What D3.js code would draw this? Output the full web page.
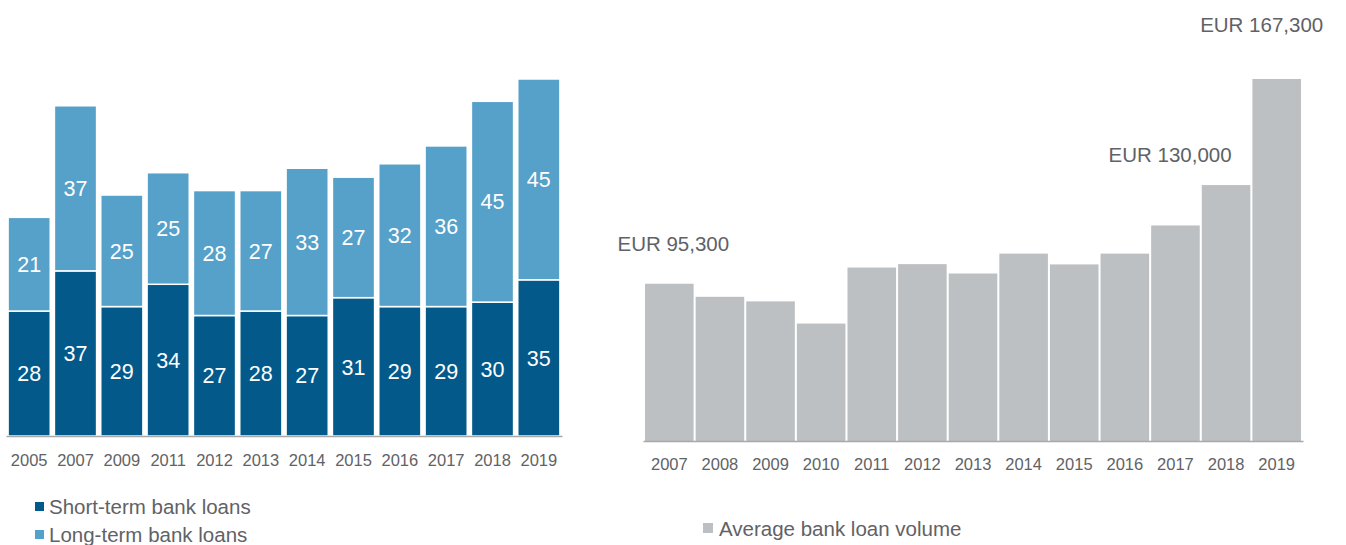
<!DOCTYPE html>
<html>
<head>
<meta charset="utf-8">
<script src="https://cdn.jsdelivr.net/npm/d3@7"></script>
<style>
  body { margin: 0; background: #fff; }
  svg { display: block; font-family: "Liberation Sans", Arial, sans-serif; }
</style>
</head>
<body>
<div id="chart"></div>
<script>
// left chart: number of bank loans (stacked)
var loanYears = ["2005","2007","2009","2011","2012","2013","2014","2015","2016","2017","2018","2019"];
var shortTerm = [28, 37, 29, 34, 27, 28, 27, 31, 29, 29, 30, 35];
var longTerm  = [21, 37, 25, 25, 28, 27, 33, 27, 32, 36, 45, 45];

// right chart: average bank loan volume (EUR)
var volYears = ["2007","2008","2009","2010","2011","2012","2013","2014","2015","2016","2017","2018","2019"];
var avgVolume = [95300, 90700, 89100, 81300, 101000, 102200, 98900, 105900, 102100, 105900, 115800, 130000, 167300];
var volLabels = {"2007": "EUR 95,300", "2018": "EUR 130,000", "2019": "EUR 167,300"};

var colors = { short: "#035a8a", long: "#56a1c9", avg: "#bdc0c3", text: "#5f6266", axis: "#a9a9a9" };

var W = 1346, H = 545;
var svg = d3.select("#chart").append("svg").attr("width", W).attr("height", H);

// ---------- left chart ----------
var left = { x0: 6, x1: 562, base: 436 };
var xL = d3.scaleBand().domain(loanYears).range([left.x0, left.x1]).paddingInner(0.09).paddingOuter(0.045);
var yL = d3.scaleLinear().domain([0, 80]).range([left.base, 79]);

var stackData = loanYears.map(function(y, i){ return { year: y, short: shortTerm[i], long: longTerm[i] }; });
var series = d3.stack().keys(["short", "long"])(stackData);

var gL = svg.append("g");
gL.selectAll(".layer").data(series).enter().append("g")
  .attr("fill", function(d){ return colors[d.key]; })
  .selectAll("rect").data(function(d){ return d; }).enter().append("rect")
  .attr("x", function(d){ return xL(d.data.year); })
  .attr("y", function(d){ return yL(d[1]); })
  .attr("width", xL.bandwidth())
  .attr("height", function(d){ return yL(d[0]) - yL(d[1]); })
  .attr("stroke", "#fff").attr("stroke-width", 1.5);

gL.selectAll(".layerlab").data(series).enter().append("g")
  .selectAll("text").data(function(d){ return d; }).enter().append("text")
  .attr("x", function(d){ return xL(d.data.year) + xL.bandwidth()/2; })
  .attr("y", function(d){ return (yL(d[0]) + yL(d[1]))/2; })
  .attr("dy", "0.36em")
  .attr("text-anchor", "middle")
  .attr("fill", "#fff").style("font-size", "21.5px")
  .text(function(d){ return d[1] - d[0]; });

var axL = gL.append("g").attr("transform", "translate(0," + left.base + ")")
  .call(d3.axisBottom(xL).tickSize(0).tickPadding(18));
axL.select(".domain").attr("stroke", colors.axis).attr("stroke-width", 1.5);
axL.selectAll("text").attr("fill", colors.text).style("font-size", "16.5px").style("font-family", "Liberation Sans, Arial, sans-serif");

// legend left
var legL = [{ label: "Short-term bank loans", c: colors.short, y: 507 }, { label: "Long-term bank loans", c: colors.long, y: 535 }];
legL.forEach(function(d){
  svg.append("rect").attr("x", 35).attr("y", d.y - 5).attr("width", 9).attr("height", 9).attr("fill", d.c);
  svg.append("text").attr("x", 49).attr("y", d.y).attr("dy", "0.36em")
    .attr("fill", colors.text).style("font-size", "20.5px").text(d.label);
});

// ---------- right chart ----------
var right = { x0: 643, x1: 1303, base: 441 };
var xR = d3.scaleBand().domain(volYears).range([right.x0, right.x1]).paddingInner(0.04).paddingOuter(0.04);
var yR = d3.scaleLinear().domain([40000, 167300]).range([right.base, 79]);

var gR = svg.append("g");
gR.selectAll("rect").data(avgVolume).enter().append("rect")
  .attr("x", function(d, i){ return xR(volYears[i]); })
  .attr("y", function(d){ return yR(d); })
  .attr("width", xR.bandwidth())
  .attr("height", function(d){ return right.base - yR(d); })
  .attr("fill", colors.avg);

var axR = gR.append("g").attr("transform", "translate(0," + right.base + ")")
  .call(d3.axisBottom(xR).tickSize(0).tickPadding(17));
axR.select(".domain").attr("stroke", colors.axis).attr("stroke-width", 1.5);
axR.selectAll("text").attr("fill", colors.text).style("font-size", "16.5px").style("font-family", "Liberation Sans, Arial, sans-serif");

// value call-outs (offsets relative to their bar)
var callOffsets = { "2007": { dx: 4, dy: -33 }, "2018": { dx: -56, dy: -23 }, "2019": { dx: -15, dy: -47 } };
Object.keys(volLabels).forEach(function(yr){
  var i = volYears.indexOf(yr);
  gR.append("text")
    .attr("x", xR(yr) + xR.bandwidth()/2 + callOffsets[yr].dx)
    .attr("y", yR(avgVolume[i]) + callOffsets[yr].dy)
    .attr("text-anchor", "middle")
    .attr("fill", colors.text).style("font-size", "20.5px")
    .text(volLabels[yr]);
});

// legend right
svg.append("rect").attr("x", 703).attr("y", 523).attr("width", 10).attr("height", 10).attr("fill", colors.avg);
svg.append("text").attr("x", 719).attr("y", 529).attr("dy", "0.36em")
  .attr("fill", colors.text).style("font-size", "20.5px").text("Average bank loan volume");
</script>
</body>
</html>
